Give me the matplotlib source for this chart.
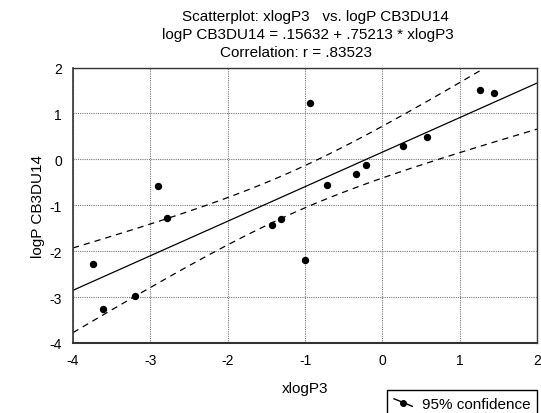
import numpy as np
import matplotlib
matplotlib.use("Agg")
import matplotlib.pyplot as plt
from matplotlib.lines import Line2D

plt.rcParams['font.family'] = ['Liberation Sans', 'DejaVu Sans']
plt.rcParams['axes.unicode_minus'] = False

# data
xlogP3 = [-3.74, -3.61, -3.20, -2.90, -2.78, -1.43, -1.31, -1.00, -0.93,
          -0.71, -0.34, -0.21, 0.27, 0.58, 1.26, 1.44]
logP_CB3DU14 = [-2.27, -3.27, -2.97, -0.58, -1.27, -1.42, -1.29, -2.20, 1.23,
                -0.55, -0.32, -0.13, 0.28, 0.49, 1.50, 1.45]
intercept = 0.15632
slope = 0.75213
t_crit = 2.145  # t(0.975, n-2=14)
xticks = [-4, -3, -2, -1, 0, 1, 2]
yticks = [-4, -3, -2, -1, 0, 1, 2]
title_lines = ["Scatterplot: xlogP3   vs. logP CB3DU14",
               "logP CB3DU14 = .15632 + .75213 * xlogP3",
               "Correlation: r = .83523"]

x = np.array(xlogP3)
y = np.array(logP_CB3DU14)
n = len(x)

W, H = 541, 414
fig = plt.figure(figsize=(W/100, H/100), dpi=100)
ax = fig.add_axes([73/W, 1-344/H, 464/W, 275.5/H])

xs = np.linspace(-4, 2, 200)
fit = intercept + slope * xs
resid = y - (intercept + slope * x)
s = np.sqrt(np.sum(resid**2) / (n - 2))
sxx = np.sum((x - x.mean())**2)
se = s * np.sqrt(1/n + (xs - x.mean())**2 / sxx)

ax.plot(xs, fit, color='black', lw=0.9)
ax.plot(xs, fit + t_crit*se, color='black', lw=0.9, ls=(0, (5, 4)))
ax.plot(xs, fit - t_crit*se, color='black', lw=0.9, ls=(0, (5, 4)))
ax.plot(x, y, 'o', color='black', ms=4.3, zorder=5)

ax.set_xlim(-4, 2)
ax.set_ylim(-4, 2)
ax.set_xticks(xticks)
ax.set_yticks(yticks)
ax.grid(True, ls=(0, (1, 1)), color='#777777', lw=0.8)
ax.set_axisbelow(True)
ax.tick_params(length=0, labelsize=10)
ax.tick_params(axis='y', pad=8)
ax.tick_params(axis='x', pad=7.5)
for sp in ax.spines.values():
    sp.set_color('#333333')
    sp.set_linewidth(1.0)
ax.spines['bottom'].set_linewidth(1.5)
ax.spines['left'].set_linewidth(1.2)

ax.set_xlabel("xlogP3", fontsize=11, labelpad=10)
ax.set_ylabel("logP CB3DU14", fontsize=11, labelpad=3)

title_left = [182, 162, 220]
title_base = [21, 39, 57]
for t, xl, yb in zip(title_lines, title_left, title_base):
    fig.text(xl/W, 1 - yb/H, t, ha='left', va='baseline', fontsize=11)


class DiagHandler:
    def legend_artist(self, legend, orig_handle, fontsize, handlebox):
        x0, y0 = -handlebox.xdescent, -handlebox.ydescent
        w, h = handlebox.width, handlebox.height
        ln = Line2D([x0, x0 + w], [y0 + 0.85*h, y0 + 0.15*h],
                    color='black', lw=1, transform=handlebox.get_transform())
        dot = Line2D([x0 + 0.5*w], [y0 + 0.5*h], marker='o', ms=4, color='black',
                     transform=handlebox.get_transform())
        handlebox.add_artist(ln)
        handlebox.add_artist(dot)
        return ln


h = Line2D([], [], color='black')
fig.legend([h], ["95% confidence"], handler_map={Line2D: DiagHandler()},
           loc='upper right', bbox_to_anchor=(537/W, 1 - 391/H),
           borderaxespad=0, fancybox=False, edgecolor='black', framealpha=1,
           fontsize=11, handlelength=1.2, handletextpad=0.6, borderpad=0.45)

fig.savefig("out.png", dpi=100)
